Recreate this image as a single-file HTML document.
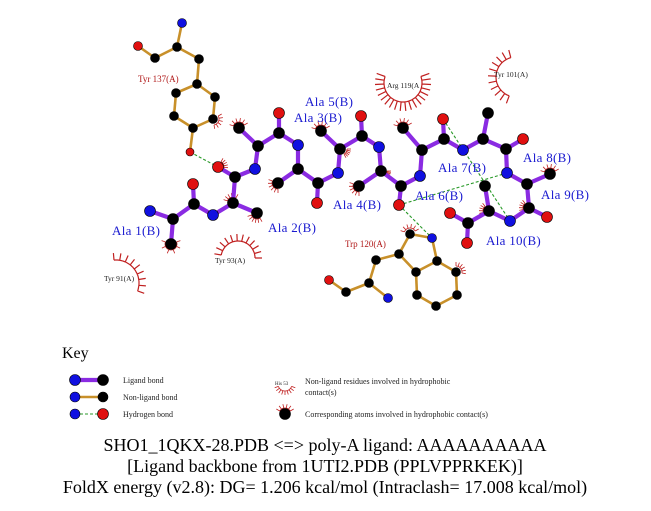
<!DOCTYPE html>
<html><head><meta charset="utf-8"><style>
html,body{margin:0;padding:0;background:#fff;}
svg{display:block;}
.lb{font-family:"Liberation Serif",serif;font-size:13px;fill:#1a1ad0;letter-spacing:0.3px;}
.rl{font-family:"Liberation Serif",serif;font-size:9px;fill:#b01818;}
.rs{font-family:"Liberation Serif",serif;font-size:7.5px;fill:#222;}
.kt{font-family:"Liberation Serif",serif;font-size:8px;fill:#222;}
.bt{font-family:"Liberation Serif",serif;font-size:18px;fill:#000;}
</style></head><body>
<svg id="s" width="651" height="511" viewBox="0 0 651 511" xmlns="http://www.w3.org/2000/svg">
<g id="arcs" stroke="#c02020" stroke-width="1.2" fill="none"></g>
<g stroke="#c8902a" stroke-width="2.6" fill="none">
<line x1="182" y1="23" x2="177" y2="47"/><line x1="138" y1="46" x2="155" y2="58"/><line x1="155" y1="58" x2="177" y2="47"/>
<line x1="177" y1="47" x2="199" y2="59"/><line x1="199" y1="59" x2="197" y2="84"/>
<line x1="197" y1="84" x2="176" y2="93"/><line x1="197" y1="84" x2="215" y2="97"/>
<line x1="176" y1="93" x2="174" y2="116"/><line x1="215" y1="97" x2="213" y2="119"/>
<line x1="174" y1="116" x2="193" y2="128"/><line x1="213" y1="119" x2="193" y2="128"/><line x1="193" y1="128" x2="190" y2="152"/>
<line x1="432" y1="238" x2="410" y2="234"/><line x1="410" y1="234" x2="399" y2="254"/><line x1="399" y1="254" x2="376" y2="260"/>
<line x1="376" y1="260" x2="369" y2="283"/><line x1="369" y1="283" x2="388" y2="298"/><line x1="369" y1="283" x2="346" y2="292"/>
<line x1="346" y1="292" x2="329" y2="280"/><line x1="399" y1="254" x2="416" y2="272"/><line x1="416" y1="272" x2="437" y2="261"/>
<line x1="437" y1="261" x2="432" y2="238"/><line x1="437" y1="261" x2="456" y2="272"/><line x1="456" y1="272" x2="457" y2="295"/>
<line x1="457" y1="295" x2="436" y2="306"/><line x1="436" y1="306" x2="417" y2="295"/><line x1="417" y1="295" x2="416" y2="272"/>
<line x1="75" y1="397" x2="103" y2="397"/>
</g>
<g stroke="#8a2be2" stroke-width="4.2" fill="none" stroke-linecap="round">
<polyline points="150,211 173,219 194,204 213,215 233,203 235,177 255,169 258,146 279,133 298,145 298,169 318,183 338,173 340,149 362,136 379,147 381,171 401,186 420,176 422,150 444,139 463,150 483,139 506,149 507,173 527,184 529,208 510,221 489,211 468,223"/>
<line x1="173" y1="219" x2="171" y2="244"/><line x1="194" y1="204" x2="193" y2="184"/>
<line x1="233" y1="203" x2="257" y2="213"/><line x1="235" y1="177" x2="218" y2="167"/>
<line x1="258" y1="146" x2="239" y2="128"/><line x1="279" y1="133" x2="279" y2="113"/>
<line x1="298" y1="169" x2="278" y2="183"/><line x1="318" y1="183" x2="317" y2="203"/>
<line x1="340" y1="149" x2="321" y2="131"/><line x1="362" y1="136" x2="361" y2="116"/>
<line x1="381" y1="171" x2="359" y2="186"/><line x1="401" y1="186" x2="399" y2="205"/>
<line x1="422" y1="150" x2="403" y2="128"/><line x1="444" y1="139" x2="443" y2="119"/>
<line x1="483" y1="139" x2="488" y2="113"/><line x1="506" y1="149" x2="523" y2="139"/>
<line x1="527" y1="184" x2="550" y2="174"/><line x1="529" y1="208" x2="547" y2="217"/>
<line x1="489" y1="211" x2="485" y2="186"/><line x1="468" y1="223" x2="450" y2="213"/><line x1="468" y1="223" x2="467" y2="243"/>
<line x1="75" y1="380" x2="103" y2="380"/>
</g>
<g stroke="#2a9a2a" stroke-width="1.1" stroke-dasharray="3,2" fill="none">
<line x1="190" y1="152" x2="218" y2="167"/><line x1="443" y1="119" x2="510" y2="221"/>
<line x1="399" y1="205" x2="507" y2="173"/><line x1="399" y1="205" x2="432" y2="238"/>
<line x1="75" y1="414" x2="103" y2="414"/>
</g>
<g id="atoms"></g>
<text class="rl" x="138" y="82">Tyr 137(A)</text>
<text class="rl" x="345" y="247">Trp 120(A)</text>
<text class="rs" x="387" y="88">Arg 119(A</text>
<text class="rs" x="494" y="77">Tyr 101(A)</text>
<text class="rs" x="215" y="263">Tyr 93(A)</text>
<text class="rs" x="104" y="281">Tyr 91(A)</text>
<text class="lb" x="112" y="235">Ala 1(B)</text>
<text class="lb" x="268" y="232">Ala 2(B)</text>
<text class="lb" x="294" y="122">Ala 3(B)</text>
<text class="lb" x="305" y="106">Ala 5(B)</text>
<text class="lb" x="333" y="209">Ala 4(B)</text>
<text class="lb" x="415" y="200">Ala 6(B)</text>
<text class="lb" x="438" y="172">Ala 7(B)</text>
<text class="lb" x="523" y="162">Ala 8(B)</text>
<text class="lb" x="541" y="199">Ala 9(B)</text>
<text class="lb" x="486" y="245">Ala 10(B)</text>
<text x="62" y="358" style="font-family:'Liberation Serif',serif;font-size:16px;fill:#000">Key</text>
<text class="kt" x="123" y="383">Ligand bond</text>
<text class="kt" x="123" y="400">Non-ligand bond</text>
<text class="kt" x="123" y="417">Hydrogen bond</text>
<text x="275" y="385" style="font-family:'Liberation Serif',serif;font-size:5px;fill:#222">His 53</text>
<text class="kt" x="305" y="384">Non-ligand residues involved in hydrophobic</text>
<text class="kt" x="305" y="395">contact(s)</text>
<text class="kt" x="305" y="417">Corresponding atoms involved in hydrophobic contact(s)</text>
<text class="bt" x="325" y="451" text-anchor="middle">SHO1_1QKX-28.PDB &lt;=&gt; poly-A ligand: AAAAAAAAAA</text>
<text class="bt" x="325" y="472" text-anchor="middle">[Ligand backbone from 1UTI2.PDB (PPLVPPRKEK)]</text>
<text class="bt" x="325" y="493" text-anchor="middle">FoldX energy (v2.8): DG= 1.206 kcal/mol (Intraclash= 17.008 kcal/mol)</text>
</svg>
<script>
var NS="http://www.w3.org/2000/svg";
function arc(g,cx,cy,r,len,a0,a1,n,w){
 var p=document.createElementNS(NS,"path"),d="";
 for(var i=0;i<=40;i++){var a=(a0+(a1-a0)*i/40)*Math.PI/180;d+=(i?"L":"M")+(cx+r*Math.cos(a)).toFixed(1)+","+(cy+r*Math.sin(a)).toFixed(1);}
 for(var i=0;i<n;i++){var a=(a0+(a1-a0)*i/(n-1))*Math.PI/180;d+="M"+(cx+r*Math.cos(a)).toFixed(1)+","+(cy+r*Math.sin(a)).toFixed(1)+"L"+(cx+(r+len)*Math.cos(a)).toFixed(1)+","+(cy+(r+len)*Math.sin(a)).toFixed(1);}
 p.setAttribute("d",d);if(w)p.setAttribute("stroke-width",w);g.appendChild(p);}
var g=document.getElementById("arcs");
arc(g,403,83,19,9,-20,200,20);
arc(g,516,77,20,8,110,255,11);
arc(g,238,258,17,7,190,360,12);
arc(g,116,283,23,7,-95,20,9);
arc(g,285,384,7,4,20,160,9,0.8);
[[171,244,-20,200],[218,167,-60,20],[257,213,60,160],[239,128,200,330],[213,119,-30,80],[278,183,90,200],[321,131,200,330],[359,186,90,200],[403,128,200,330],[550,174,200,330],[410,234,200,330],[456,272,-90,10],[233,203,200,300],[341,149,0,60],[285,414,210,330],[529,208,150,230],[489,211,150,230],[381,171,0,40]].forEach(function(s){arc(g,s[0],s[1],6,4,s[2],s[3],6,0.8);});
var at=document.getElementById("atoms");
function c(x,y,col,r){var e=document.createElementNS(NS,"circle");e.setAttribute("cx",x);e.setAttribute("cy",y);e.setAttribute("r",r);e.setAttribute("fill",col);e.setAttribute("stroke","#000");e.setAttribute("stroke-width","0.6");at.appendChild(e);}
var K="#000",B="#1010e0",R="#e01010";
[[182,23,B],[138,46,R],[155,58,K],[177,47,K],[199,59,K],[197,84,K],[176,93,K],[215,97,K],[174,116,K],[213,119,K],[193,128,K],
 [432,238,B],[410,234,K],[399,254,K],[376,260,K],[369,283,K],[388,298,B],[346,292,K],[329,280,R],[416,272,K],[437,261,K],[456,272,K],[457,295,K],[436,306,K],[417,295,K]].forEach(function(a){c(a[0],a[1],a[2],4.5);});
c(190,152,R,4);
[[150,211,B],[173,219,K],[171,244,K],[194,204,K],[193,184,R],[213,215,B],[233,203,K],[257,213,K],[235,177,K],[218,167,R],
 [255,169,B],[258,146,K],[239,128,K],[279,133,K],[279,113,R],[298,145,B],[298,169,K],[278,183,K],[318,183,K],[317,203,R],
 [338,173,B],[340,149,K],[321,131,K],[362,136,K],[361,116,R],[379,147,B],[381,171,K],[359,186,K],[401,186,K],[399,205,R],
 [420,176,B],[422,150,K],[403,128,K],[444,139,K],[443,119,R],[463,150,B],[483,139,K],[488,113,K],[506,149,K],[523,139,R],
 [507,173,B],[527,184,K],[550,174,K],[529,208,K],[547,217,R],[510,221,B],[489,211,K],[485,186,K],[468,223,K],[450,213,R],[467,243,R]].forEach(function(a){c(a[0],a[1],a[2],5.5);});
c(75,380,B,5.5);c(103,380,K,5.5);c(75,397,B,5);c(103,397,K,5);c(75,414,B,5);c(103,414,R,5.5);c(285,414,K,5.5);
</script>
</body></html>
